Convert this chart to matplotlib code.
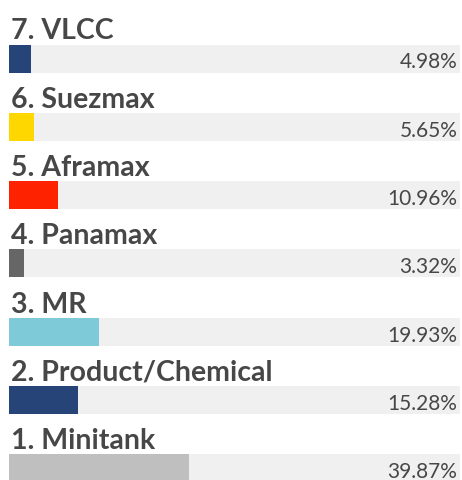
import matplotlib.pyplot as plt

# Data (top to bottom as drawn)
labels = ["7. VLCC", "6. Suezmax", "5. Aframax", "4. Panamax", "3. MR",
          "2. Product/Chemical", "1. Minitank"]
shares = [4.98, 5.65, 10.96, 3.32, 19.93, 15.28, 39.87]
colors = ["#264478", "#FFD700", "#FF2200", "#666666", "#7FCAD8",
          "#264478", "#BFBFBF"]

TEXT_COLOR = "#474747"
TRACK_COLOR = "#F0F0F0"

plt.rcParams['font.family'] = ['Lato', 'DejaVu Sans']

W, H = 462, 481
fig = plt.figure(figsize=(W / 100, H / 100), dpi=100)
fig.patch.set_facecolor("white")

# axes spanning the bar track horizontally, full height
ax = fig.add_axes([9 / W, 0, 451 / W, 1])
ax.set_xlim(0, 100)

row_px = 68.3      # row spacing in pixels
first_px = 59.5    # centre of first bar in pixels
ax.set_ylim((H - first_px) / row_px, -first_px / row_px)
ax.axis("off")

bar_h = 28 / row_px
rows = list(range(len(labels)))

# Background tracks and value bars
ax.barh(rows, [100] * len(rows), height=bar_h, color=TRACK_COLOR, linewidth=0)
ax.barh(rows, shares, height=bar_h, color=colors, linewidth=0)

for i, (lab, val) in enumerate(zip(labels, shares)):
    ax.text(0.4, i - 20 / row_px, lab, ha="left", va="baseline",
            fontsize=20.5, fontweight="bold", color=TEXT_COLOR)
    ax.text(99.4, i + 9 / row_px, f"{val:.2f}%", ha="right", va="baseline",
            fontsize=15, color=TEXT_COLOR)

fig.savefig("out.png", dpi=100)
